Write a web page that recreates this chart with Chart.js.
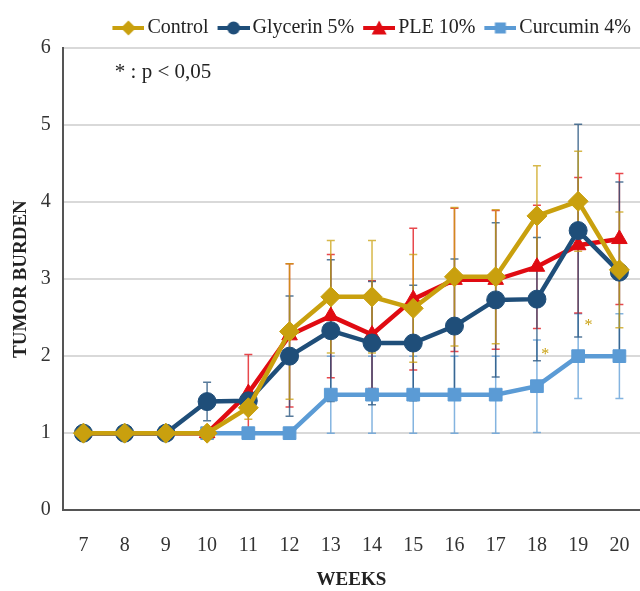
<!DOCTYPE html>
<html>
<head>
<meta charset="utf-8">
<script src="https://cdn.jsdelivr.net/npm/chart.js@4/dist/chart.umd.min.js"></script>
<style>
html,body{margin:0;padding:0;background:#fff;}
#wrap{width:640px;height:591px;position:relative;}
</style>
</head>
<body>
<div id="wrap"><canvas id="c"></canvas></div>
<script>
// ---- data ----
const weeks = ['7','8','9','10','11','12','13','14','15','16','17','18','19','20'];
const seriesNames = ['Control','Glycerin 5%','PLE 10%','Curcumin 4%'];
const control     = [1,1,1,1,1.33,2.32,2.77,2.77,2.62,3.03,3.03,3.82,4.01,3.12];
const controlErr  = [0,0,0,0,0.15,0.88,0.73,0.73,0.70,0.90,0.87,0.65,0.65,0.75];
const glycerin    = [1,1,1,1.41,1.42,2.00,2.33,2.17,2.17,2.39,2.73,2.74,3.63,3.09];
const glycerinErr = [0,0,0,0.25,0.10,0.78,0.92,0.80,0.75,0.87,1.00,0.80,1.38,1.17];
const ple         = [1,1,1,1,1.52,2.27,2.52,2.28,2.74,2.99,2.99,3.16,3.44,3.52];
const pleErr      = [0,0,0,0,0.50,0.93,0.80,0.70,0.92,0.93,0.90,0.80,0.88,0.85];
const curcumin    = [1,1,1,1,1,1,1.5,1.5,1.5,1.5,1.5,1.61,2.0,2.0];
const curcuminErr = [0,0,0,0,0,0,0.5,0.5,0.5,0.5,0.5,0.6,0.55,0.55];
// significance stars (category index, value)
const starIndex = [11.2, 12.25];
const starValue = [2.05, 2.43];
const noteText = '* : p < 0,05';
const yTicks = [0,1,2,3,4,5,6];

// ---- styles ----
const colors = ['#C9A00E','#1F4E79','#E00B12','#5B9BD5'];
const styles = ['rectRot','circle','triangle','rect'];
const radii = [10,9,9,9];
const SERIF = '"Liberation Serif","Times New Roman",serif';

function legendIcon(color, style, r){
  const cv = document.createElement('canvas');
  cv.width = 39; cv.height = 20;
  const g = cv.getContext('2d');
  const x0 = 7, x1 = 39;
  g.strokeStyle = color; g.lineWidth = 4;
  g.beginPath(); g.moveTo(x0,10); g.lineTo(x1,10); g.stroke();
  g.fillStyle = color;
  const cx=(x0+x1)/2, cy=10, s=Math.min(r,9)*0.72;
  g.beginPath();
  if(style==='circle'){ g.arc(cx,cy,s,0,Math.PI*2); }
  else if(style==='rectRot'){ g.moveTo(cx,cy-s-1); g.lineTo(cx+s+1,cy); g.lineTo(cx,cy+s+1); g.lineTo(cx-s-1,cy); g.closePath(); }
  else if(style==='triangle'){ g.moveTo(cx,cy-s-1); g.lineTo(cx+s+1,cy+s); g.lineTo(cx-s-1,cy+s); g.closePath(); }
  else { const q=s*0.85; g.rect(cx-q,cy-q,2*q,2*q); }
  g.fill();
  return cv;
}

const allData = [control, glycerin, ple, curcumin];
const allErr = [controlErr, glycerinErr, pleErr, curcuminErr];

const datasets = seriesNames.map((n,i)=>({
  label: n,
  data: allData[i],
  errors: allErr[i],
  borderColor: colors[i],
  backgroundColor: colors[i],
  borderWidth: 4.5,
  pointStyle: styles[i],
  pointRadius: radii[i],
  pointHoverRadius: radii[i],
  pointBorderWidth: 1,
  tension: 0,
  clip: false
}));

const errorBars = {
  id:'errorBars',
  beforeDatasetsDraw(chart){
    const ctx = chart.ctx, y = chart.scales.y;
    for(let d=chart.data.datasets.length-1; d>=0; d--){
      const ds = chart.data.datasets[d];
      const meta = chart.getDatasetMeta(d);
      ctx.save();
      ctx.strokeStyle = ds.borderColor;
      ctx.globalAlpha = 0.75;
      ctx.lineWidth = 1.5;
      meta.data.forEach((pt,i)=>{
        const e = ds.errors[i];
        if(!e) return;
        const v = ds.data[i];
        const yt = y.getPixelForValue(v+e), yb = y.getPixelForValue(v-e);
        ctx.beginPath();
        ctx.moveTo(pt.x,yt); ctx.lineTo(pt.x,yb);
        ctx.moveTo(pt.x-4,yt); ctx.lineTo(pt.x+4,yt);
        ctx.moveTo(pt.x-4,yb); ctx.lineTo(pt.x+4,yb);
        ctx.stroke();
      });
      ctx.restore();
    }
  },
  afterDatasetsDraw(chart){
    const ctx = chart.ctx, x = chart.scales.x, y = chart.scales.y, a = chart.chartArea;
    ctx.save();
    ctx.fillStyle = '#C9A00E';
    ctx.font = '16px ' + SERIF;
    ctx.textAlign = 'center'; ctx.textBaseline = 'middle';
    starIndex.forEach((si,k)=>{
      ctx.fillText('*', x.getPixelForValue(si), y.getPixelForValue(starValue[k])+3);
    });
    ctx.fillStyle = '#222';
    ctx.font = '21px ' + SERIF;
    ctx.textAlign = 'left';
    ctx.fillText(noteText, a.left + 52, a.top + 24);
    ctx.restore();
  }
};

new Chart(document.getElementById('c'), {
  type:'line',
  data:{ labels: weeks, datasets },
  plugins:[errorBars],
  options:{
    responsive:true,
    maintainAspectRatio:false,
    animation:false,
    layout:{ autoPadding:false, padding:{ top:9, right:0, left:10, bottom:0 } },
    plugins:{
      tooltip:{enabled:false},
      legend:{
        position:'top',
        align:'end',
        labels:{
          usePointStyle:true,
          pointStyleWidth:25,
          boxHeight:20,
          padding:9,
          color:'#222',
          font:{ family:SERIF, size:20 },
          generateLabels(chart){
            return chart.data.datasets.map((ds,i)=>({
              text: ds.label,
              pointStyle: legendIcon(colors[i], styles[i], radii[i]),
              fillStyle: colors[i],
              strokeStyle: colors[i],
              lineWidth: 0,
              hidden:false,
              datasetIndex:i,
              fontColor:'#222'
            }));
          }
        }
      }
    },
    scales:{
      x:{
        offset:true,
        afterFit(scale){ scale.paddingLeft = 0; scale.paddingRight = 0; },
        grid:{ display:true, drawOnChartArea:false, drawTicks:true, tickLength:22, tickColor:'rgba(0,0,0,0)' },
        border:{ color:'#555', width:2 },
        ticks:{ color:'#333', font:{ family:SERIF, size:20 }, padding:2 },
        title:{ display:true, text:'WEEKS', color:'#222', font:{ family:SERIF, size:19, weight:'bold' }, padding:{top:8,bottom:0} }
      },
      y:{
        min:0, max:6,
        afterBuildTicks(scale){ scale.ticks = yTicks.map(v=>({value:v})); },
        grid:{ color:'#d9d9d9', lineWidth:2, drawTicks:true, tickLength:10, tickColor:'rgba(0,0,0,0)' },
        border:{ color:'#555', width:2 },
        ticks:{ color:'#333', font:{ family:SERIF, size:20 }, padding:2 },
        title:{ display:true, text:'TUMOR BURDEN', color:'#222', font:{ family:SERIF, size:19, weight:'bold' }, padding:{top:0,bottom:6} }
      }
    }
  }
});
</script>
</body>
</html>
